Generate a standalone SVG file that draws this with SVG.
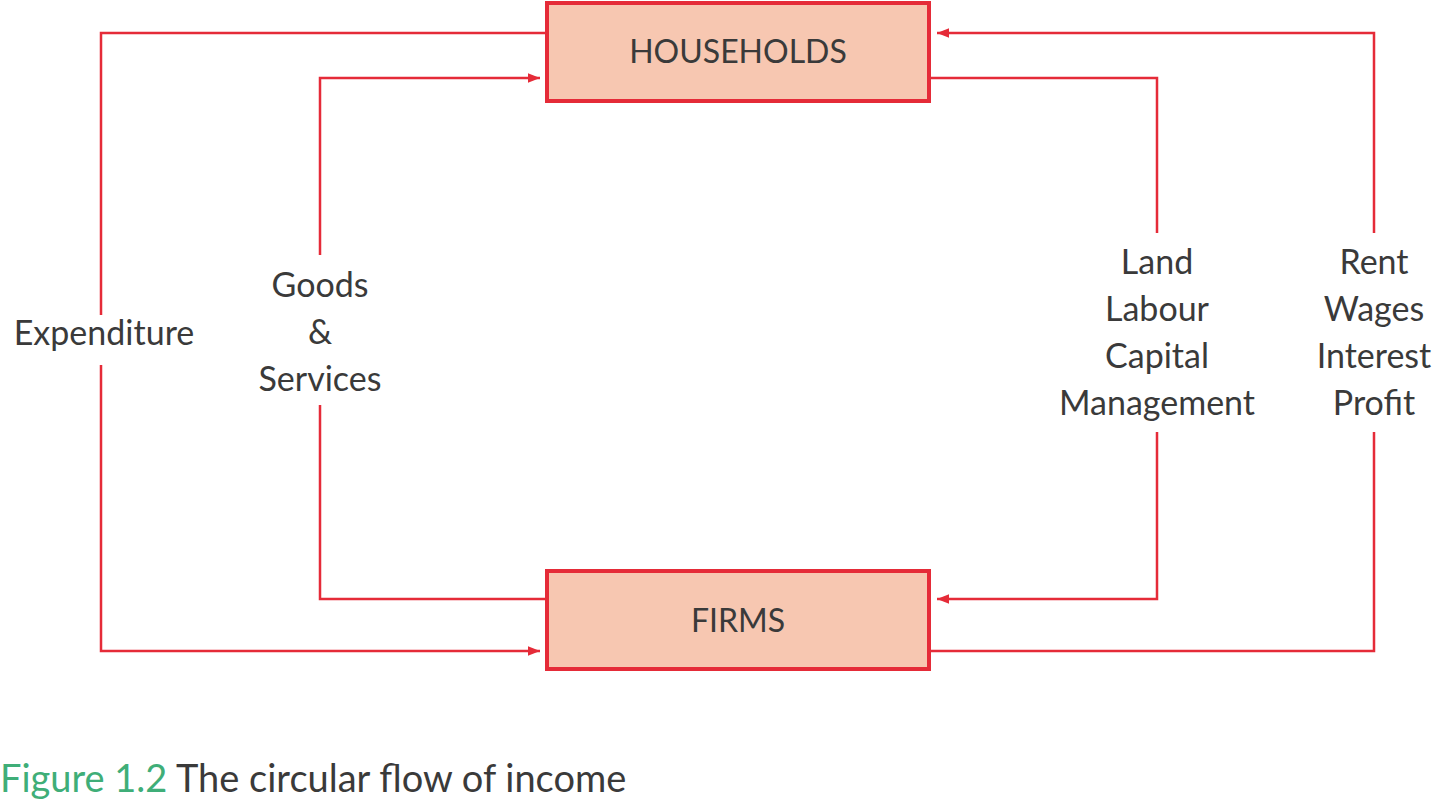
<svg xmlns="http://www.w3.org/2000/svg" width="1440" height="805" viewBox="0 0 1440 805">
<style>
.box{fill:#f7c7b1;stroke:#e52b38;stroke-width:4}
.ln{fill:none;stroke:#e52b38;stroke-width:2.5}
.t{font-family:Lato,"Open Sans",sans-serif;font-size:34px;fill:#3a3a3a;text-anchor:middle}
.bt{font-family:Lato,"Open Sans",sans-serif;font-size:32px;fill:#3a3a3a;text-anchor:middle}
</style>
<defs>
<marker id="a" viewBox="0 0 10 10" refX="10" refY="5" markerWidth="12" markerHeight="12" markerUnits="userSpaceOnUse" orient="auto">
<path d="M0,1 L10,5 L0,9 Z" fill="#e52b38"/>
</marker>
</defs>
<rect width="1440" height="805" fill="#fff"/>
<g id="connectors">
<path class="ln" d="M547,33 H101 V315"/>
<path class="ln" d="M101,365 V651 H540" marker-end="url(#a)"/>
<path class="ln" d="M547,599 H320 V405"/>
<path class="ln" d="M320,255 V78 H540" marker-end="url(#a)"/>
<path class="ln" d="M929,78 H1157 V233"/>
<path class="ln" d="M1157,432 V599 H937" marker-end="url(#a)"/>
<path class="ln" d="M929,651 H1374 V432"/>
<path class="ln" d="M1374,233 V33 H937" marker-end="url(#a)"/>
<text class="t" x="104" y="345">Expenditure</text>
<text class="t" x="320" y="297">Goods</text>
<text class="t" x="320" y="344">&amp;</text>
<text class="t" x="320" y="391">Services</text>
<text class="t" x="1157" y="274">Land</text>
<text class="t" x="1157" y="321">Labour</text>
<text class="t" x="1157" y="368">Capital</text>
<text class="t" x="1157" y="415">Management</text>
<text class="t" x="1374" y="274">Rent</text>
<text class="t" x="1374" y="321">Wages</text>
<text class="t" x="1374" y="368">Interest</text>
<text class="t" x="1374" y="415">Profit</text>
</g>
<g id="households">
<rect class="box" x="547" y="3" width="382" height="98"/>
<text class="bt" x="738" y="63">HOUSEHOLDS</text>
</g>
<g id="firms">
<rect class="box" x="547" y="571" width="382" height="98"/>
<text class="bt" x="738" y="632">FIRMS</text>
</g>
<text x="0" y="792" font-family="Lato,'Open Sans',sans-serif" font-size="38" fill="#3a3a3a"><tspan fill="#3fae78">Figure 1.2</tspan> The circular flow of income</text>
</svg>
